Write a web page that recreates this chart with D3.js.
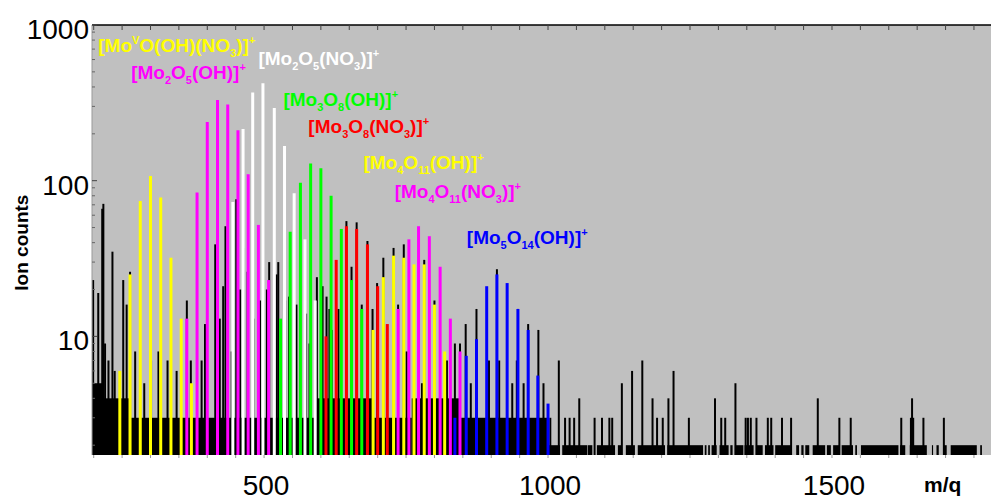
<!DOCTYPE html>
<html>
<head>
<meta charset="utf-8">
<script src="https://cdn.jsdelivr.net/npm/d3@7"></script>
<style>
  body { margin: 0; background: #fff; }
  svg { display: block; font-family: 'Liberation Sans', Arial, sans-serif; }
</style>
</head>
<body>
<div class="chart"></div>
<script>
// isotope clusters (m/z, ion counts)
var moVOHNO3Mz     = [246, 264, 282, 300, 318, 336, 354, 372];
var moVOHNO3Counts = [6, 25, 74, 107, 78, 32, 13, 5];

var mo2o5OHMz      = [364, 382, 400, 418, 436, 454, 472, 490, 508];
var mo2o5OHCounts  = [13, 84, 238, 330, 309, 211, 110, 52, 23];

var mo2o5NO3Mz     = [445, 463, 480, 498, 518, 536, 553, 572, 590];
var mo2o5NO3Counts = [73, 215, 369, 422, 293, 167, 83, 42, 17];

var mo3o8OHMz      = [529, 546, 564, 582, 600, 618, 636, 654, 672];
var mo3o8OHCounts  = [13, 47, 97, 129, 120, 80, 49, 23, 15];

var mo3o8NO3Mz     = [609, 627, 645, 663, 682, 700, 717];
var mo3o8NO3Counts = [10, 31, 51, 49, 39, 21, 12];

var mo4o11OHMz     = [692, 710, 728, 746, 764, 782, 800, 818];
var mo4o11OHCounts = [11, 24, 33, 32, 29, 29, 16, 8];

var mo4o11NO3Mz     = [736, 755, 772, 791, 810, 828, 845];
var mo4o11NO3Counts = [15, 42, 51, 44, 28, 13, 8];

var mo5o14OHMz     = [836, 856, 874, 892, 910, 928, 947, 965, 982, 1000];
var mo5o14OHCounts = [3, 7.5, 9.6, 21, 25, 22, 15, 11, 5.6, 3.7];

// full spectrum (black): single peaks [m/z, counts]
var spectrumPeaks = [
  [199,23],[208,19],[215,66],[217,71],[220,9],[226,7],[233,35],[237,6],[252,23],[258,16],
  [264,26],[273,8],[289,5],[301,7],[314,8],[330,7],[346,6],[364,17],[371,7],[390,7],
  [396,12],[414,39],[422,13],[428,21],[432,51],[443,8],[451,76],[458,20],[463,37],[471,26],
  [481,13],[493,17],[505,20],[509,30],[522,25],[525,30],[537,17],[544,18],[557,16],[574,14],
  [580,9],[593,24],[603,21],[610,18],[615,15],[619,11],[631,15],[645,55],[654,28],[663,54],
  [672,16],[682,41],[691,15],[699,22],[710,32],[728,37],[736,16],[746,39],[751,8],[778,5],
  [782,31],[800,17],[822,7],[836,9],[845,9],[855,12],[864,5],[874,15],[896,7],[910,27],
  [914,7],[937,5],[945,7],[947,15],[957,5],[965,12],[983,11],[992,5],
  [1004,3],[1019,7],[1030,3],[1038,3],[1046,3],[1055,4],[1082,3],[1095,3],[1108,3],[1113,3],
  [1130,5],[1148,6],[1166,7],[1184,4],[1192,3],[1202,3],[1212,4],[1221,6],[1248,3],[1294,4],
  [1305,3],[1312,3],[1330,5],[1348,3],[1352,3],[1357,3],[1367,3],[1387,3],[1393,3],[1412,3],
  [1428,3],[1475,4],[1513,3],[1533,3],[1622,3],[1639,3],[1641,4],[1643,3],[1661,3],[1697,3]
];

// noise floor: [from m/z, to m/z, counts]
var noiseFloor = [
  [197,215,5],[215,262,4],[262,590,3],[590,690,4],[690,760,3],[760,845,4],[845,1000,3],
  [1000,1021,2],[1025,1069,2],[1070,1078,2],[1086,1118,2],[1123,1130,2],[1137,1153,2],
  [1158,1206,2],[1210,1273,2],[1276,1279,2],[1282,1285,2],[1288,1297,2],[1302,1318,2],
  [1321,1325,2],[1329,1344,2],[1346,1362,2],[1366,1378,2],[1382,1397,2],[1400,1429,2],
  [1437,1442,2],[1446,1450,2],[1453,1460,2],[1466,1488,2],[1491,1498,2],[1502,1514,2],
  [1517,1537,2],[1541,1544,2],[1551,1617,2],[1620,1629,2],[1637,1667,2],[1676,1678,2],
  [1684,1688,2],[1696,1702,2],[1709,1755,2],[1761,1764,2]
];

var xTicks = [500, 1000, 1500];
var yTicks = [10, 100, 1000];

var margin = { top: 25, right: 0, bottom: 46, left: 92 };
var width  = 991 - margin.left - margin.right;
var height = 501 - margin.top - margin.bottom;

var svg = d3.select('.chart')
  .append('svg')
    .attr('width', 991)
    .attr('height', 501)
  .append('g')
    .attr('transform', `translate(${margin.left}, ${margin.top})`);

var xScale = d3.scaleLinear()
  .domain([197, 1780])
  .range([0, width]);

var yScale = d3.scaleLog()
  .domain([1.73, 1000])
  .range([height, 0]);

svg.append('rect')
  .attr('width', width)
  .attr('height', height)
  .attr('fill', '#c0c0c0');

// spectrum
svg.selectAll('.floor')
  .data(noiseFloor)
  .enter()
  .append('rect')
  .attr('x', d => xScale(d[0]))
  .attr('y', d => yScale(d[2]))
  .attr('width', d => xScale(d[1]) - xScale(d[0]))
  .attr('height', d => height - yScale(d[2]))
  .attr('fill', '#000');

svg.selectAll('.peak')
  .data(spectrumPeaks)
  .enter()
  .append('line')
  .attr('x1', d => xScale(d[0]))
  .attr('x2', d => xScale(d[0]))
  .attr('y1', height)
  .attr('y2', d => yScale(d[1]))
  .attr('stroke', '#000')
  .attr('stroke-width', 2);

var series = [
  { mz: moVOHNO3Mz,  counts: moVOHNO3Counts,  color: '#ffff00' },
  { mz: mo2o5OHMz,   counts: mo2o5OHCounts,   color: '#ff00ff' },
  { mz: mo2o5NO3Mz,  counts: mo2o5NO3Counts,  color: '#ffffff' },
  { mz: mo3o8OHMz,   counts: mo3o8OHCounts,   color: '#00ff00' },
  { mz: mo3o8NO3Mz,  counts: mo3o8NO3Counts,  color: '#ff0000' },
  { mz: mo4o11OHMz,  counts: mo4o11OHCounts,  color: '#ffff00' },
  { mz: mo4o11NO3Mz, counts: mo4o11NO3Counts, color: '#ff00ff' },
  { mz: mo5o14OHMz,  counts: mo5o14OHCounts,  color: '#0000ff' }
];

series.forEach(function(s) {
  svg.append('g')
    .selectAll('line')
    .data(s.mz.map((m, i) => [m, s.counts[i]]))
    .enter()
    .append('line')
    .attr('x1', d => xScale(d[0]))
    .attr('x2', d => xScale(d[0]))
    .attr('y1', height)
    .attr('y2', d => yScale(d[1]))
    .attr('stroke', s.color)
    .attr('stroke-width', 3);
});

// axes
var minor = d3.range(200, 1780, 50);

svg.append('line')
  .attr('x1', 0).attr('x2', width)
  .attr('y1', 0).attr('y2', 0)
  .attr('stroke', '#000').attr('stroke-width', 1.5);

svg.selectAll('.ttick')
  .data(minor)
  .enter()
  .append('line')
  .attr('x1', d => xScale(d)).attr('x2', d => xScale(d))
  .attr('y1', 0).attr('y2', 5)
  .attr('stroke', '#444');

svg.selectAll('.btick')
  .data(minor)
  .enter()
  .append('line')
  .attr('x1', d => xScale(d)).attr('x2', d => xScale(d))
  .attr('y1', height).attr('y2', height + 3)
  .attr('stroke', '#999');

var yMinor = [];
[1, 10, 100].forEach(function(dec) {
  for (var k = 2; k <= 9; k++) if (k * dec >= 1.73) yMinor.push(k * dec);
});

svg.append('line')
  .attr('x1', 0).attr('x2', 0)
  .attr('y1', 0).attr('y2', height)
  .attr('stroke', '#999');

svg.selectAll('.ymin')
  .data(yMinor)
  .enter()
  .append('line')
  .attr('x1', 0).attr('x2', 3)
  .attr('y1', d => yScale(d)).attr('y2', d => yScale(d))
  .attr('stroke', '#666');

svg.selectAll('.ymaj')
  .data(yTicks)
  .enter()
  .append('line')
  .attr('x1', 0).attr('x2', 5)
  .attr('y1', d => yScale(d)).attr('y2', d => yScale(d))
  .attr('stroke', '#444');

svg.selectAll('.ylab')
  .data(yTicks)
  .enter()
  .append('text')
  .attr('x', -3)
  .attr('y', d => yScale(d) + 14)
  .attr('text-anchor', 'end')
  .attr('font-size', 28)
  .text(d => d);

svg.selectAll('.xlab')
  .data(xTicks)
  .enter()
  .append('text')
  .attr('x', d => xScale(d) + 2)
  .attr('y', height + 40)
  .attr('text-anchor', 'middle')
  .attr('font-size', 28)
  .text(d => d);

svg.append('text')
  .attr('x', 832)
  .attr('y', height + 37)
  .attr('font-size', 21)
  .attr('font-weight', 'bold')
  .text('m/q');

svg.append('text')
  .attr('transform', `translate(${-64}, ${yScale(40)}) rotate(-90)`)
  .attr('text-anchor', 'middle')
  .attr('font-size', 19)
  .attr('font-weight', 'bold')
  .text('Ion counts');

// cluster labels, anchored in data units
var labels = [
  { at: [208, 670], color: '#ffff00', parts: [['[Mo'], ['V', 'sup'], ['O(OH)(NO'], ['3', 'sub'], [')]'], ['+', 'sup']] },
  { at: [490, 553], color: '#ffffff', parts: [['[Mo'], ['2', 'sub'], ['O'], ['5', 'sub'], ['(NO'], ['3', 'sub'], [')]'], ['+', 'sup']] },
  { at: [266, 448], color: '#ff00ff', parts: [['[Mo'], ['2', 'sub'], ['O'], ['5', 'sub'], ['(OH)]'], ['+', 'sup']] },
  { at: [534, 302], color: '#00ff00', parts: [['[Mo'], ['3', 'sub'], ['O'], ['8', 'sub'], ['(OH)]'], ['+', 'sup']] },
  { at: [578, 203], color: '#ff0000', parts: [['[Mo'], ['3', 'sub'], ['O'], ['8', 'sub'], ['(NO'], ['3', 'sub'], [')]'], ['+', 'sup']] },
  { at: [675, 119], color: '#ffff00', parts: [['[Mo'], ['4', 'sub'], ['O'], ['11', 'sub'], ['(OH)]'], ['+', 'sup']] },
  { at: [730, 77],  color: '#ff00ff', parts: [['[Mo'], ['4', 'sub'], ['O'], ['11', 'sub'], ['(NO'], ['3', 'sub'], [')]'], ['+', 'sup']] },
  { at: [857, 39],  color: '#0000ff', parts: [['[Mo'], ['5', 'sub'], ['O'], ['14', 'sub'], ['(OH)]'], ['+', 'sup']] }
];

labels.forEach(function(l) {
  var t = svg.append('text')
    .attr('x', xScale(l.at[0]))
    .attr('y', yScale(l.at[1]))
    .attr('fill', l.color)
    .attr('font-size', 19)
    .attr('font-weight', 'bold');
  var cur = 0;
  l.parts.forEach(function(p) {
    var off = p[1] === 'sub' ? 5 : p[1] === 'sup' ? -8 : 0;
    t.append('tspan')
      .attr('dy', off - cur)
      .attr('font-size', p[1] ? 11 : 19)
      .text(p[0]);
    cur = off;
  });
});
</script>
</body>
</html>
